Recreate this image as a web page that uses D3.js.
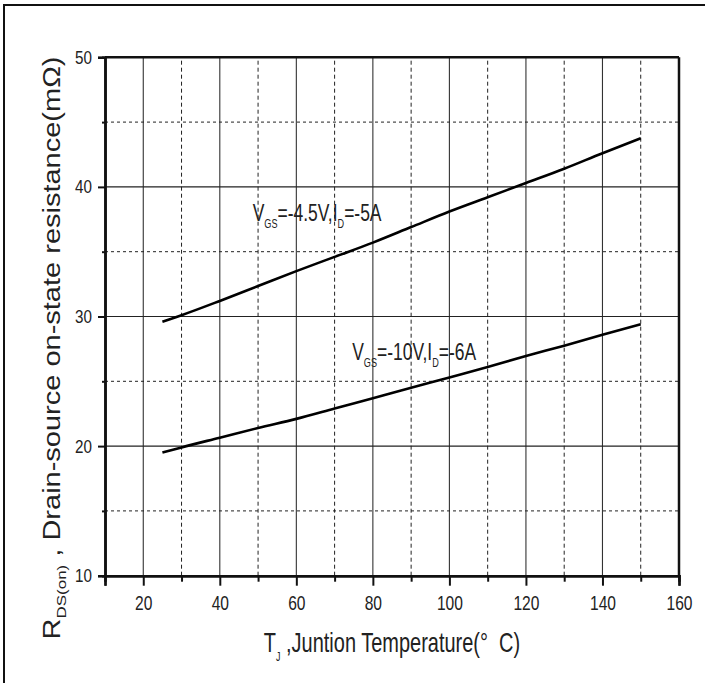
<!DOCTYPE html>
<html>
<head>
<meta charset="utf-8">
<script src="https://cdn.jsdelivr.net/npm/d3@7"></script>
<style>
body { margin: 0; background: #fff; }
text { font-family: "Liberation Sans", Arial, sans-serif; fill: #222; }
</style>
</head>
<body>
<div id="chart"></div>
<script>
// data
var junctionTemp = [25, 30, 40, 50, 60, 70, 80, 90, 100, 110, 120, 130, 140, 150];
var rdsVgs45 = [29.6, 30.1, 31.2, 32.35, 33.5, 34.6, 35.7, 36.9, 38.1, 39.2, 40.3, 41.4, 42.6, 43.75];
var rdsVgs10 = [19.5, 19.9, 20.65, 21.4, 22.1, 22.9, 23.7, 24.5, 25.3, 26.1, 26.95, 27.75, 28.6, 29.4];

var xMajorTicks = [10, 20, 40, 60, 80, 100, 120, 140, 160];
var xMinorTicks = [30, 50, 70, 90, 110, 130, 150];
var yMajorTicks = [10, 20, 30, 40, 50];
var yMinorTicks = [15, 25, 35, 45];

// curve labels: [text, isSubscript], anchor in data coords
var labelVgs45 = [["V", 0], ["GS", 1], ["=-4.5V,I", 0], ["D", 1], ["=-5A", 0]];
var labelVgs45At = [48.6, 37.4];
var labelVgs10 = [["V", 0], ["GS", 1], ["=-10V,I", 0], ["D", 1], ["=-6A", 0]];
var labelVgs10At = [74.6, 26.65];

var width = 705, height = 683;
var plotLeft = 105, plotRight = 679, plotTop = 57.3, plotBottom = 575.7;

var svg = d3.select("#chart").append("svg")
    .attr("width", width)
    .attr("height", height)
    .attr("viewBox", "0 0 " + width + " " + height);

// outer frame (only top/left visible)
svg.append("rect")
    .attr("x", 4).attr("y", 5)
    .attr("width", 760).attr("height", 760)
    .attr("fill", "none")
    .attr("stroke", "#111")
    .attr("stroke-width", 2);

var x = d3.scaleLinear().domain([10, 160]).range([plotLeft, plotRight]);
var y = d3.scaleLinear().domain([10, 50]).range([plotBottom, plotTop]);

// grid
var grid = svg.append("g");
grid.selectAll(".vmaj").data(xMajorTicks.filter(function(d){ return d > 10 && d < 160; }))
    .enter().append("line")
    .attr("x1", function(d){ return x(d); }).attr("x2", function(d){ return x(d); })
    .attr("y1", y(10)).attr("y2", y(50))
    .attr("stroke", "#333").attr("stroke-width", 1.1);
grid.selectAll(".vmin").data(xMinorTicks)
    .enter().append("line")
    .attr("x1", function(d){ return x(d); }).attr("x2", function(d){ return x(d); })
    .attr("y1", y(10)).attr("y2", y(50))
    .attr("stroke", "#222").attr("stroke-width", 1)
    .attr("stroke-dasharray", "4,3");
grid.selectAll(".hmaj").data(yMajorTicks.filter(function(d){ return d > 10 && d < 50; }))
    .enter().append("line")
    .attr("x1", x(10)).attr("x2", x(160))
    .attr("y1", function(d){ return y(d); }).attr("y2", function(d){ return y(d); })
    .attr("stroke", "#222").attr("stroke-width", 1.1);
grid.selectAll(".hmin").data(yMinorTicks)
    .enter().append("line")
    .attr("x1", x(10)).attr("x2", x(160))
    .attr("y1", function(d){ return y(d); }).attr("y2", function(d){ return y(d); })
    .attr("stroke", "#222").attr("stroke-width", 1)
    .attr("stroke-dasharray", "3,3");

// top and right frame of the plot
svg.append("line")
    .attr("x1", x(10)).attr("x2", x(160)).attr("y1", y(50)).attr("y2", y(50))
    .attr("stroke", "#111").attr("stroke-width", 2.5);
svg.append("line")
    .attr("x1", x(160)).attr("x2", x(160)).attr("y1", y(50)).attr("y2", y(10))
    .attr("stroke", "#111").attr("stroke-width", 2.5);

// axes
var xAxis = svg.append("g").attr("transform", "translate(0," + plotBottom + ")")
    .call(d3.axisBottom(x).tickValues(xMajorTicks).tickSize(10).tickPadding(10)
        .tickFormat(function(d){ return d == 10 ? "" : d; }));
svg.append("g").attr("transform", "translate(0," + plotBottom + ")")
    .call(d3.axisBottom(x).tickValues(xMinorTicks).tickSize(6).tickFormat(""));

var yAxis = svg.append("g").attr("transform", "translate(" + plotLeft + ",0)")
    .call(d3.axisLeft(y).tickValues(yMajorTicks).tickSize(7).tickPadding(6));
svg.append("g").attr("transform", "translate(" + plotLeft + ",0)")
    .call(d3.axisLeft(y).tickValues(yMinorTicks).tickSize(3).tickFormat(""));

svg.selectAll(".domain").attr("stroke", "#111").attr("stroke-width", 2.5);
svg.selectAll(".tick line").attr("stroke", "#111").attr("stroke-width", 2);

xAxis.selectAll("text")
    .style("font-size", "20px")
    .attr("fill", "#222")
    .attr("transform", "scale(0.78,1)");
yAxis.selectAll("text")
    .style("font-size", "19px")
    .attr("fill", "#222")
    .attr("x", -13 / 0.8)
    .attr("transform", "scale(0.8,1)");

// curves
var line = d3.line()
    .x(function(d){ return x(d[0]); })
    .y(function(d){ return y(d[1]); })
    .curve(d3.curveMonotoneX);

[rdsVgs45, rdsVgs10].forEach(function(series) {
    svg.append("path")
        .datum(junctionTemp.map(function(t, i){ return [t, series[i]]; }))
        .attr("d", line)
        .attr("fill", "none")
        .attr("stroke", "#000")
        .attr("stroke-width", 2.6);
});

// text with subscripts, squeezed horizontally
function drawRichText(parts, px, py, size, subSize, sq, anchor) {
    var g = svg.append("g").attr("transform", "translate(" + px + "," + py + ") scale(" + sq + ",1)");
    var t = g.append("text").attr("x", 0).attr("y", 0)
        .attr("text-anchor", anchor)
        .attr("xml:space", "preserve")
        .style("white-space", "pre")
        .style("font-size", size + "px");
    var down = false;
    parts.forEach(function(p) {
        var dy = 0;
        if (p[1] && !down) { dy = size * 0.32; down = true; }
        else if (!p[1] && down) { dy = -size * 0.32; down = false; }
        t.append("tspan")
            .attr("dy", dy)
            .style("font-size", (p[1] ? subSize : size) + "px")
            .text(p[0]);
    });
    return g;
}

drawRichText(labelVgs45, x(labelVgs45At[0]), y(labelVgs45At[1]), 23, 12, 0.76, "start");
drawRichText(labelVgs10, x(labelVgs10At[0]), y(labelVgs10At[1]), 23, 12, 0.76, "start");

// axis titles
drawRichText([["T", 0], ["J", 1], [" ,Juntion Temperature(\u00B0\u00A0\u00A0C)", 0]],
    (plotLeft + plotRight) / 2, 652, 27, 12, 0.74, "middle");

var yTitle = svg.append("g").attr("transform", "translate(60,348) scale(0.8,1) rotate(-90)");
var yt = yTitle.append("text").attr("text-anchor", "middle").style("font-size", "29px");
yt.append("tspan").text("R");
yt.append("tspan").attr("dy", 8).style("font-size", "17px").text("DS(on)");
yt.append("tspan").attr("dy", -8).text(" , Drain-source on-state resistance(m\u03A9)");
</script>
</body>
</html>
